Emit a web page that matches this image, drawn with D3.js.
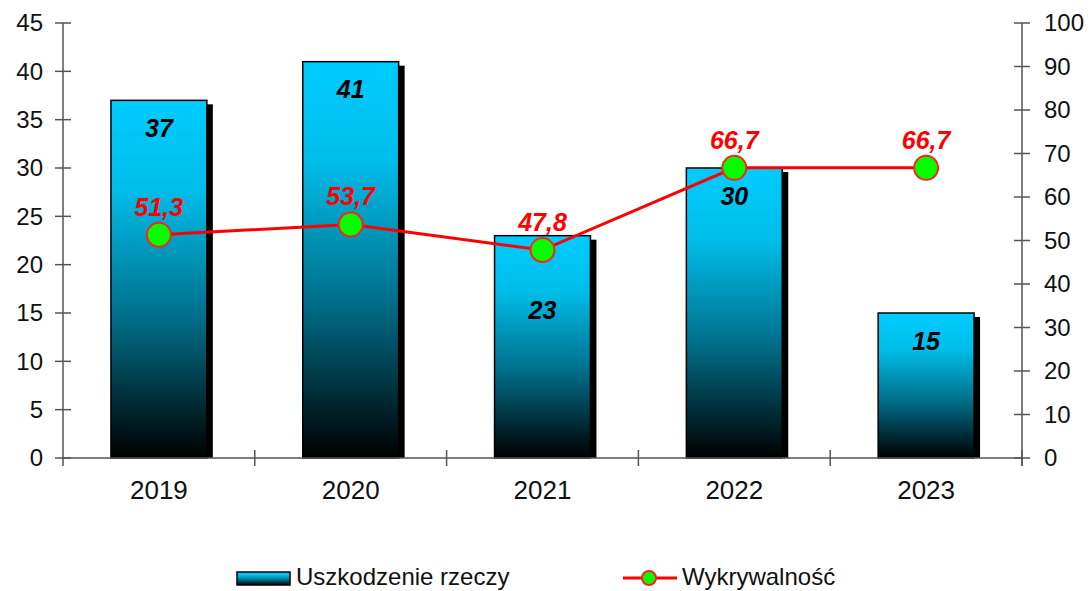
<!DOCTYPE html>
<html lang='pl'>
<head>
  <meta charset='UTF-8'>
  <title>Uszkodzenie rzeczy</title>
  <style>
    body { margin: 0; background: #fff; }
    text { font-family: 'Liberation Sans', Arial, sans-serif; }
  </style>
</head>
<body>
  <script src='https://cdn.jsdelivr.net/npm/d3@7/dist/d3.min.js'></script>
  <script>
// dane
const years = ['2019', '2020', '2021', '2022', '2023'];
const cases = [37, 41, 23, 30, 15];            // Uszkodzenie rzeczy
const detection = [51.3, 53.7, 47.8, 66.7, 66.7]; // Wykrywalność
const leftTicks = [0, 5, 10, 15, 20, 25, 30, 35, 40, 45];
const rightTicks = [0, 10, 20, 30, 40, 50, 60, 70, 80, 90, 100];

const width = 1091, height = 591;
const plotLeft = 63, plotRight = 1022, plotTop = 23, plotBottom = 458;

const svg = d3.select('body').append('svg')
  .attr('width', width).attr('height', height);

const defs = svg.append('defs');
const grad = defs.append('linearGradient').attr('id', 'barGrad')
  .attr('x1', 0).attr('y1', 0).attr('x2', 0).attr('y2', 1);
grad.append('stop').attr('offset', '0%').attr('stop-color', '#00ccff');
grad.append('stop').attr('offset', '25%').attr('stop-color', '#00bde9');
grad.append('stop').attr('offset', '60%').attr('stop-color', '#00708c');
grad.append('stop').attr('offset', '100%').attr('stop-color', '#000000');

const x = d3.scaleBand().domain(years).range([plotLeft, plotRight]).padding(0);
const y = d3.scaleLinear().domain([0, 45]).range([plotBottom, plotTop]);
const y2 = d3.scaleLinear().domain([0, 100]).range([plotBottom, plotTop]);

const barW = x.bandwidth() * 0.5;
const cx = d => x(d) + x.bandwidth() / 2;

// słupki z cieniem
const bars = svg.append('g');
years.forEach((yr, i) => {
  const x0 = cx(yr) - barW / 2;
  bars.append('rect')
    .attr('x', x0 + 6).attr('y', y(cases[i]) + 4)
    .attr('width', barW).attr('height', plotBottom - y(cases[i]) - 4)
    .attr('fill', '#000');
  bars.append('rect')
    .attr('x', x0).attr('y', y(cases[i]))
    .attr('width', barW).attr('height', plotBottom - y(cases[i]))
    .attr('fill', 'url(#barGrad)')
    .attr('stroke', '#000').attr('stroke-width', 1.5);
});

// osie
const axisColor = '#555';
function drawTicks(g, ticks, scale, xPos, anchor, dx) {
  ticks.forEach(t => {
    g.append('line')
      .attr('x1', xPos - 8).attr('x2', xPos + 8)
      .attr('y1', scale(t)).attr('y2', scale(t))
      .attr('stroke', axisColor).attr('stroke-width', 1.5);
    g.append('text')
      .attr('x', xPos + dx).attr('y', scale(t))
      .attr('dy', '0.35em')
      .attr('text-anchor', anchor)
      .attr('font-size', 24)
      .attr('fill', '#111')
      .text(t);
  });
}
const axes = svg.append('g');
axes.append('line').attr('x1', plotLeft).attr('x2', plotLeft)
  .attr('y1', plotTop).attr('y2', plotBottom + 8)
  .attr('stroke', axisColor).attr('stroke-width', 1.5);
axes.append('line').attr('x1', plotRight).attr('x2', plotRight)
  .attr('y1', plotTop).attr('y2', plotBottom + 8)
  .attr('stroke', axisColor).attr('stroke-width', 1.5);
axes.append('line').attr('x1', plotLeft).attr('x2', plotRight)
  .attr('y1', plotBottom).attr('y2', plotBottom)
  .attr('stroke', axisColor).attr('stroke-width', 1.5);
drawTicks(axes, leftTicks, y, plotLeft, 'end', -20);
drawTicks(axes, rightTicks, y2, plotRight, 'start', 22);

// znaczniki kategorii
years.forEach(yr => {
  axes.append('line')
    .attr('x1', x(yr) + x.bandwidth()).attr('x2', x(yr) + x.bandwidth())
    .attr('y1', plotBottom - 8).attr('y2', plotBottom + 8)
    .attr('stroke', axisColor).attr('stroke-width', 1.5);
  axes.append('text')
    .attr('x', cx(yr)).attr('y', plotBottom + 41)
    .attr('text-anchor', 'middle')
    .attr('font-size', 26).attr('fill', '#111')
    .text(yr);
});

// etykiety słupków
years.forEach((yr, i) => {
  let ly = y(cases[i]) + 28;
  const py = y2(detection[i]);
  if (Math.abs(ly - py) < 25) ly = py + 60;
  svg.append('text')
    .attr('x', cx(yr)).attr('y', ly)
    .attr('dy', '0.35em')
    .attr('text-anchor', 'middle')
    .attr('font-size', 25).attr('font-weight', 'bold').attr('font-style', 'italic')
    .attr('fill', '#000')
    .text(cases[i]);
});

// linia wykrywalności
const line = d3.line().x((d, i) => cx(years[i])).y(d => y2(d));
svg.append('path').datum(detection)
  .attr('d', line)
  .attr('fill', 'none').attr('stroke', '#ff0000').attr('stroke-width', 3);
svg.append('g').selectAll('circle').data(detection).join('circle')
  .attr('cx', (d, i) => cx(years[i])).attr('cy', d => y2(d))
  .attr('r', 12)
  .attr('fill', '#00ff00').attr('stroke', '#ff2020').attr('stroke-width', 2);
svg.append('g').selectAll('text').data(detection).join('text')
  .attr('x', (d, i) => cx(years[i])).attr('y', d => y2(d) - 28)
  .attr('dy', '0.35em')
  .attr('text-anchor', 'middle')
  .attr('font-size', 25).attr('font-weight', 'bold').attr('font-style', 'italic')
  .attr('fill', '#ff0000')
  .text(d => d3.format('.1f')(d).replace('.', ','));

// legenda
const leg = svg.append('g');
leg.append('rect').attr('x', 237).attr('y', 572).attr('width', 53).attr('height', 13)
  .attr('fill', 'url(#barGrad)').attr('stroke', '#000').attr('stroke-width', 1.5);
leg.append('text').attr('x', 296).attr('y', 585)
  .attr('font-size', 24).attr('fill', '#111').text('Uszkodzenie rzeczy');
leg.append('line').attr('x1', 623).attr('x2', 677).attr('y1', 578).attr('y2', 578)
  .attr('stroke', '#ff0000').attr('stroke-width', 3);
leg.append('circle').attr('cx', 649).attr('cy', 578).attr('r', 7)
  .attr('fill', '#00ff00').attr('stroke', '#ff2020').attr('stroke-width', 2);
leg.append('text').attr('x', 682).attr('y', 585)
  .attr('font-size', 24).attr('fill', '#111').text('Wykrywalność');
  </script>
</body>
</html>
